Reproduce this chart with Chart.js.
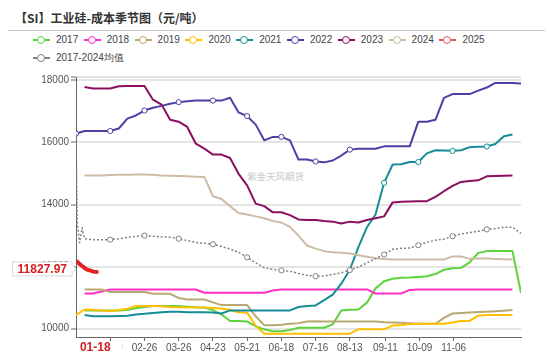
<!DOCTYPE html>
<html><head><meta charset="utf-8">
<script src="https://cdn.jsdelivr.net/npm/chart.js@4.4.1/dist/chart.umd.min.js"></script>
<style>
html,body{margin:0;padding:0;background:#fff;}
#wrap{position:relative;width:550px;height:357px;overflow:hidden;font-family:"Liberation Sans",Arial,sans-serif;}
#title{position:absolute;left:15px;top:10px;font-weight:bold;font-size:12px;font-family:"Noto Sans CJK SC";color:#333;line-height:16px;white-space:nowrap;}
#sep{position:absolute;left:8px;top:30px;width:537px;height:0;border-top:1px solid #c8c8c8;}
#legend{position:absolute;left:33px;top:31px;width:515px;}
.li{display:inline-flex;align-items:center;width:50.8px;height:17px;font-size:10px;color:#444;vertical-align:top;white-space:nowrap}
.li.wide{width:120px}
.ic{position:relative;width:17px;height:10px;margin-right:6px;flex:none}
.ic .ln{position:absolute;left:0;right:0;top:4.5px;height:1.5px}
.ic .ci{position:absolute;left:4px;top:1px;width:6px;height:6px;border-radius:50%;background:#fff;border:1.5px solid}
#wm{position:absolute;left:247px;top:169px;font-size:9.5px;font-family:"Noto Sans CJK SC";color:#c8c8c8;white-space:nowrap}
canvas{position:absolute;left:0;top:0}
</style></head>
<body>
<div id="wrap">
  <div id="title">【SI】工业硅-成本季节图（元/吨）</div>
  <div id="sep"></div>
  <div id="legend"></div>
  <div id="wm">紫金天风期货</div>
  <canvas id="c" width="550" height="357"></canvas>
</div>
<script>
// ---- categories (weekly MM-DD) ----
const weekDates = ["01-01","01-08","01-15","01-22","01-29","02-05","02-12","02-19","02-26","03-05","03-12","03-19","03-26","04-02","04-09","04-16","04-23","04-30","05-07","05-14","05-21","05-28","06-04","06-11","06-18","06-25","07-02","07-09","07-16","07-23","07-30","08-06","08-13","08-20","08-27","09-03","09-10","09-17","09-24","10-01","10-08","10-15","10-22","10-29","11-05","11-12","11-19","11-26","12-03","12-10","12-17","12-24","12-31"];
const tickLabels = ["01-29","02-26","03-26","04-23","05-21","06-18","07-16","08-13","09-11","10-09","11-06"];
const yTicks = [10000,12000,14000,16000,18000];

// ---- series values (weekly) ----
const v2017 = [null,10590,10590,10590,10590,10590,10600,10660,10700,10730,10730,10730,10730,10710,10690,10680,10600,10460,10250,10245,10230,10080,9980,9920,9920,9960,10030,10030,10030,10030,10140,10590,10610,10620,10840,11300,11530,11610,11640,11650,11670,11690,11760,11900,11950,11960,12140,12440,12500,12500,12500,12500,11160];
const v2018 = [null,11135,11135,11200,11265,11265,11265,11265,11265,11265,11265,11265,11265,11265,11265,11160,11160,11160,11160,11160,11160,11160,11160,11230,11265,11265,11265,11265,11265,11265,11265,11265,11265,11265,11265,11135,11135,11135,11135,11250,11265,11265,11265,11265,11265,11265,11265,11265,11265,11265,11265,11265,null];
const v2019 = [null,11265,11265,11265,11180,11180,11180,11180,11180,11125,11125,11125,10990,10940,10940,10940,10850,10760,10760,10760,10760,10400,10115,10115,10130,10160,10180,10230,10240,10230,10230,10230,10230,10230,10230,10230,10210,10200,10190,10180,10160,10160,10160,10350,10490,10510,10525,10540,10550,10565,10580,10600,null];
const v2020 = [10440,10620,10610,10590,10570,10600,10640,10730,10730,10730,10720,10700,10690,10680,10680,10680,10670,10650,10600,10530,10515,10100,9840,9840,9840,9840,9840,9840,9840,9840,9840,9840,9840,9980,9980,9980,9980,10100,10120,10150,10160,10160,10160,10160,10200,10245,10250,10420,10440,10440,10440,10440,null];
const v2021 = [null,10440,10405,10405,10405,10410,10420,10460,10480,10510,10530,10550,10550,10530,10530,10530,10520,10490,10590,10590,10590,10590,10590,10590,10590,10590,10700,10730,10750,10920,11100,11450,11900,12630,13270,13680,14700,15290,15300,15370,15370,15650,15750,15740,15730,15750,15850,15860,15870,15950,16200,16260,null];
const v2022 = [16285,16370,16370,16370,16370,16450,16770,16870,17030,17120,17180,17250,17300,17330,17350,17350,17350,17350,17440,16970,16850,16575,16070,16180,16180,16070,15450,15450,15390,15360,15420,15580,15770,15800,15800,15800,15875,15875,15875,15875,16670,16670,16730,17440,17560,17560,17560,17670,17770,17920,17920,17920,17900];
const v2023 = [null,17790,17740,17740,17740,17810,17820,17820,17820,17380,17220,16730,16670,16500,15960,15800,15610,15610,15500,14990,14620,14030,13950,13750,13750,13660,13520,13500,13500,13470,13450,13390,13450,13420,13500,13560,13620,14070,14090,14100,14110,14110,14250,14430,14600,14730,14760,14780,14910,14920,14930,14940,null];
const v2024 = [null,14940,14940,14940,14950,14960,14960,14970,14970,14960,14940,14930,14920,14910,14900,14890,14270,14180,13950,13730,13680,13620,13560,13470,13420,13280,13000,12680,12580,12500,12460,12450,12420,12370,12320,12270,12250,12230,12230,12230,12230,12230,12230,12230,12330,12330,12250,12260,12260,12250,12240,12230,null];
const dates2025 = ["01-02","01-03","01-06","01-07","01-08","01-09","01-10","01-13","01-14","01-15","01-16","01-17","01-18"];
const v2025 = [12160,12120,12020,11990,11960,11930,11905,11870,11855,11845,11838,11832,11827.97];
const avgStartDates = ["01-01","01-02","01-04","01-06"];
const avgStartValues = [16285,13420,12770,13250];
const vAvg = [null,12900,12870,12870,12870,12900,12940,12980,13000,12980,12960,12950,12900,12840,12780,12750,12720,12650,12570,12460,12300,12120,11960,11910,11880,11850,11780,11720,11690,11700,11750,11800,11890,11990,12120,12260,12390,12560,12590,12600,12690,12780,12850,12890,12980,13050,13100,13140,13200,13230,13270,13270,13070];

// ---- helpers ----
const monthStart = [0,31,59,90,120,151,181,212,243,273,304,334];
function toDay(s){ const p = s.split('-').map(Number); return monthStart[p[0]-1] + p[1] - 1; }
function pts(dates, vals){ const out=[]; vals.forEach((v,i)=>{ if(v!==null) out.push({x:toDay(dates[i]), y:v}); }); return out; }

const series = [
  {label:'2017', data:pts(weekDates,v2017), color:'#5cd33c'},
  {label:'2018', data:pts(weekDates,v2018), color:'#ff2ec4'},
  {label:'2019', data:pts(weekDates,v2019), color:'#b9a872'},
  {label:'2020', data:pts(weekDates,v2020), color:'#ffbf00'},
  {label:'2021', data:pts(weekDates,v2021), color:'#168c97', mark:d=>d%28===0 && d>=252},
  {label:'2022', data:pts(weekDates,v2022), color:'#4d3fa3', mark:d=>d%28===0 && d<=224},
  {label:'2023', data:pts(weekDates,v2023), color:'#8b0e5f'},
  {label:'2024', data:pts(weekDates,v2024), color:'#cdbca5'},
  {label:'2025', data:pts(dates2025,v2025), color:'#e02222', width:4, legendColor:'#e65c5c'},
  {label:'2017-2024均值', data:pts(avgStartDates,avgStartValues).concat(pts(weekDates,vAvg)), color:'#808080', width:1.5, dash:[2,2], mark:d=>d%28===0 && d>0 && d<364}
];

// legend
const lg = document.getElementById('legend');
series.forEach((s,i)=>{
  const el = document.createElement('div');
  el.className = 'li' + (i===9?' wide':'');
  const c = s.legendColor || s.color;
  el.innerHTML = '<span class="ic"><span class="ln" style="background:'+c+'"></span><span class="ci" style="border-color:'+c+'"></span></span><span>'+s.label+'</span>';
  lg.appendChild(el);
});

const xTickDays = tickLabels.map(toDay);
const tickDayToLabel = {};
tickLabels.forEach(l=>{ tickDayToLabel[toDay(l)] = l; });

const Y_MIN = 9733, Y_MAX = 18110;

const pointerPlugin = {
  id:'pointer',
  afterDraw(chart){
    const ctx = chart.ctx, a = chart.chartArea;
    const lastV = v2025[v2025.length-1], lastD = toDay(dates2025[dates2025.length-1]);
    const y = chart.scales.y.getPixelForValue(lastV) - 3;
    const x = chart.scales.x.getPixelForValue(lastD) - 1.5;
    ctx.save();
    ctx.font = 'bold 12px "Liberation Sans", Arial';
    // y label
    const t = lastV.toFixed(2);
    const w = ctx.measureText(t).width;
    const r = a.left - 4, l = r - w - 10;
    ctx.beginPath();
    ctx.moveTo(l, y-7); ctx.lineTo(r, y-7); ctx.lineTo(r, y-4); ctx.lineTo(a.left, y); ctx.lineTo(r, y+4); ctx.lineTo(r, y+7); ctx.lineTo(l, y+7); ctx.closePath();
    ctx.fillStyle = '#fff'; ctx.fill();
    ctx.strokeStyle = '#d8d8d8'; ctx.lineWidth = 1; ctx.stroke();
    ctx.fillStyle = '#d42020'; ctx.textAlign='center'; ctx.textBaseline='middle';
    ctx.fillText(t, (l+r)/2, y+0.5);
    // x label
    const xt = dates2025[dates2025.length-1];
    const xw = ctx.measureText(xt).width;
    const ly = a.bottom + 11;
    ctx.fillStyle = '#fff';
    ctx.fillRect(x - xw/2 - 4, a.bottom + 5, xw + 16, 15);
    ctx.fillStyle = '#d42020';
    ctx.fillText(xt, x, ly);
    ctx.restore();
  }
};

new Chart(document.getElementById('c'), {
  type:'line',
  data:{ datasets: series.map((s,i)=>({
    label:s.label, data:s.data, borderColor:s.color, backgroundColor:s.color,
    borderWidth:s.width||2, borderDash:s.dash||[], fill:false, tension:0,
    borderCapStyle: s.width===4?'round':'butt', borderJoinStyle:'round',
    pointRadius: c => (s.mark && c.raw && s.mark(c.raw.x)) ? 2.6 : 0,
    pointBackgroundColor:'#fff', pointBorderColor:s.color, pointBorderWidth:1,
    pointHoverRadius:0, order: 20 - i
  }))},
  options:{
    responsive:false, animation:false, devicePixelRatio:1,
    layout:{padding:{top:77,right:29,bottom:0,left:0}},
    plugins:{legend:{display:false}, tooltip:{enabled:false}},
    events:[],
    scales:{
      x:{ type:'linear', min:0, max:364,
        afterFit: s=>{ s.height = 20; },
        afterBuildTicks: s=>{ s.ticks = xTickDays.map(v=>({value:v})); },
        grid:{ drawOnChartArea:false, drawTicks:true, tickLength:4, tickColor:'#666' },
        border:{ color:'#666', width:1 },
        ticks:{ autoSkip:false, maxRotation:0, padding:1, color:'#555', font:{size:10, family:'"Liberation Sans", Arial'},
          callback: v => tickDayToLabel[v] || '' }
      },
      y:{ type:'linear', min:Y_MIN, max:Y_MAX,
        afterFit: s=>{ s.width = 76; },
        afterBuildTicks: s=>{ s.ticks = yTicks.map(v=>({value:v})).concat([{value:Y_MAX}]); },
        grid:{ color:'#e4e4e4', lineWidth:2, tickLength:5, tickColor:'#666', tickWidth:1 },
        border:{ color:'#666', width:1 },
        ticks:{ padding:2, color:'#555', font:{size:10, family:'"Liberation Sans", Arial'},
          callback: v => (yTicks.indexOf(v) >= 0 ? String(v) : '') }
      }
    }
  },
  plugins:[pointerPlugin]
});
</script>
</body></html>
